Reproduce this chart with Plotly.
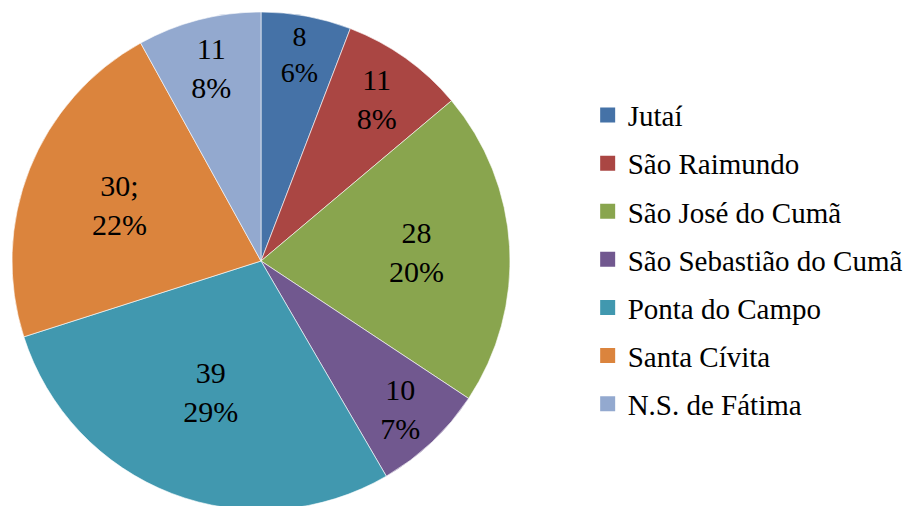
import plotly.graph_objects as go

labels = ["Jutaí", "São Raimundo", "São José do Cumã", "São Sebastião do Cumã",
          "Ponta do Campo", "Santa Cívita", "N.S. de Fátima"]
values = [8, 11, 28, 10, 39, 30, 11]
pct_labels = ["6%", "8%", "20%", "7%", "29%", "22%", "8%"]
separators = ["", "", "", "", "", ";", ""]
colors = ["#4572A7", "#AA4643", "#89A54E", "#71588F", "#4198AF", "#DB843D", "#93A9CF"]

FONT = "Liberation Serif"

texts = [f"{v}{s}<br>{p}" for v, s, p in zip(values, separators, pct_labels)]

fig = go.Figure()
fig.add_trace(go.Pie(
    labels=labels, values=values, text=texts,
    textinfo="text", textposition="inside", insidetextorientation="horizontal",
    sort=False, direction="clockwise", rotation=0,
    marker=dict(colors=colors, line=dict(color="white", width=0.6)),
    insidetextfont=dict(family=FONT, size=30, color="black"),
    domain=dict(x=[4 / 912, 502 / 912], y=[0, 1]),
    showlegend=False, hoverinfo="label+value+percent",
))

for lab, col in zip(labels, colors):
    fig.add_trace(go.Scatter(
        x=[None], y=[None], mode="markers", name=lab, legendgroup=lab,
        marker=dict(symbol="square", size=15, color=col, line=dict(width=0)),
        showlegend=True, hoverinfo="skip",
    ))

fig.update_layout(
    width=912, height=506,
    margin=dict(l=0, r=0, t=4, b=4),
    paper_bgcolor="white", plot_bgcolor="white",
    font=dict(family=FONT, size=29, color="black"),
    xaxis=dict(visible=False), yaxis=dict(visible=False),
    legend=dict(
        x=0.6356, y=0.844, xanchor="left", yanchor="top",
        font=dict(family=FONT, size=29, color="black"),
        traceorder="grouped", tracegroupgap=7.4,
        itemsizing="trace", bgcolor="rgba(0,0,0,0)",
    ),
)

fig.write_html("out.html")
